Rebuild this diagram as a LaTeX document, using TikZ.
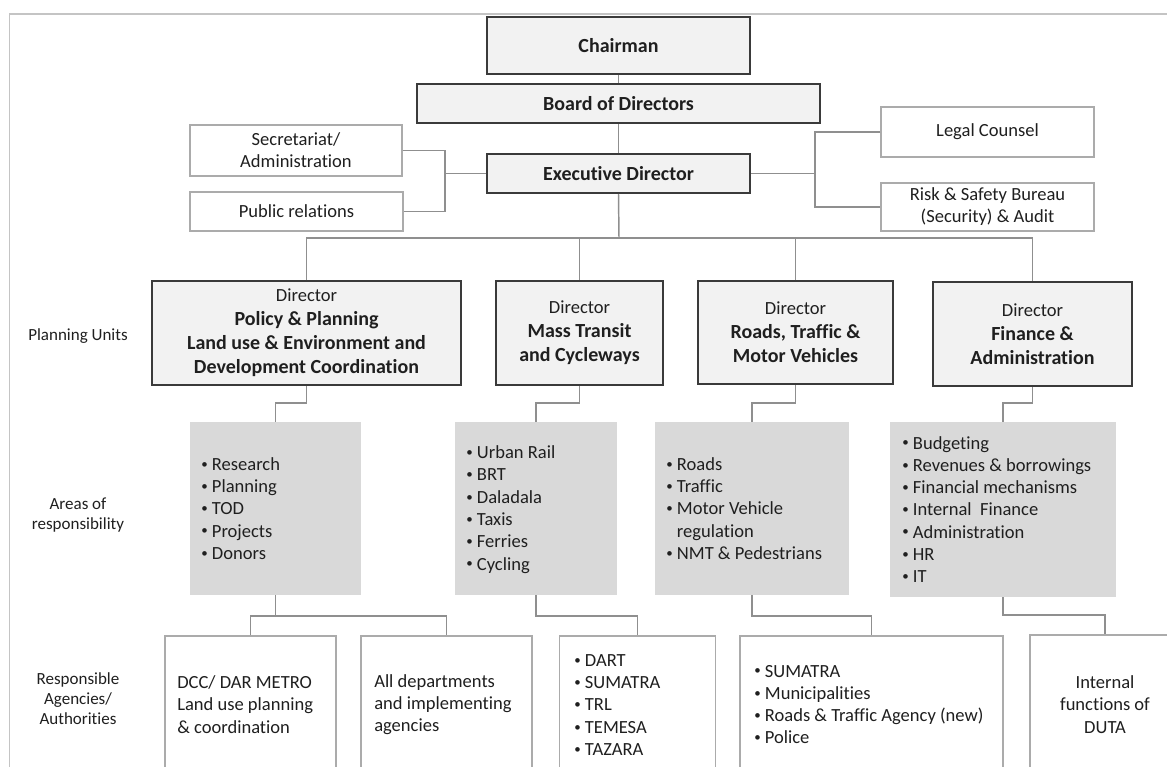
\documentclass[tikz,border=0pt]{standalone}
\usepackage{fontspec}
\setmainfont[Ligatures=NoCommon]{Carlito}
\usetikzlibrary{fit}

\definecolor{ink}{HTML}{1F1F1F}
\definecolor{boxline}{HTML}{3A3A3A}
\definecolor{boxfill}{HTML}{F2F2F2}
\definecolor{connc}{HTML}{8F8F8F}
\definecolor{thinline}{HTML}{ABABAB}
\definecolor{greyfill}{HTML}{D9D9D9}
\definecolor{framec}{HTML}{C4C4C4}

% small bullet with fixed hang, and the matching indent for wrapped lines
\newcommand\bl{\makebox[8pt][l]{\raisebox{0.25ex}{\scalebox{0.7}{\textbullet}}}}
\newcommand\bh{\hspace*{8pt}}
\newcommand\dirline{{\mdseries\fontsize{13.9}{18}\selectfont Director}}

\tikzset{
  size/.style 2 args={minimum width=#1*0.75pt, minimum height=#2*0.75pt},
  head/.style={draw=boxline, line width=1.5pt, fill=boxfill, inner sep=0pt,
    text=ink, align=center, font=\fontsize{15}{18}\selectfont\bfseries},
  plainbox/.style={draw=thinline, line width=1.1pt, fill=white, inner sep=0pt,
    text=ink, align=center, font=\fontsize{13.9}{16.5}\selectfont},
  greybox/.style={fill=greyfill, draw=none, inner sep=0pt},
  listtext/.style={anchor=west, align=left, inner sep=0pt, text=ink,
    font=\fontsize{13.9}{16.7}\selectfont},
  rowlabel/.style={align=center, inner sep=0pt, text=ink,
    font=\fontsize{12.75}{15}\selectfont},
  link/.style={draw=connc, line width=1.1pt},
}

\begin{document}
\begin{tikzpicture}[x=0.75pt, y=-0.75pt]
\useasboundingbox (0,0) rectangle (1167,767);
\clip (0,0) rectangle (1167,767);

% page frame
\draw[framec, line width=1.1pt] (9.6,790) -- (9.6,14) -- (1190,14);

% governing bodies
\node[head, size={263}{57}] (chair) at (618.5,45.5) {Chairman};
\node[head, size={403}{39}] (board) at (618.5,103.5) {Board of Directors};
\node[head, size={263}{39}] (exec) at (618.5,173.5) {Executive Director};

% staff offices
\node[plainbox, size={212}{51}] (sec) at (296,150.5) {Secretariat/\\Administration};
\node[plainbox, size={213}{39}] (pub) at (296.5,211.5) {Public relations};
\node[plainbox, size={213}{50}] (legal) at (987.5,132) {Legal Counsel};
\node[plainbox, size={213}{48}] (risk) at (987.5,207) {Risk \& Safety Bureau\\(Security) \& Audit};

% directorates
\node[head, size={309}{104}] (dpol) at (306.5,333) {\dirline\\Policy \& Planning\\Land use \& Environment and\\Development Coordination};
\node[head, size={167}{104}] (dmass) at (579.5,333) {\dirline\\Mass Transit\\and Cycleways};
\node[head, size={195}{103}] (droad) at (795.5,332.5) {\dirline\\Roads, Traffic \&\\Motor Vehicles};
\node[head, size={199}{104}] (dfin) at (1032.5,334) {\dirline\\Finance \&\\Administration};

% areas of responsibility
\node[greybox, fit={(190,422) (361,595)}] (gpol) {};
\node[greybox, fit={(455,422) (617,595)}] (gmass) {};
\node[greybox, fit={(655,422) (849,595)}] (groad) {};
\node[greybox, fit={(890,422) (1116,597)}] (gfin) {};

\node[listtext] (lpol) at (201,508.5) {\bl Research\\\bl Planning\\\bl TOD\\\bl Projects\\\bl Donors};
\node[listtext] (lmass) at (466,509.5) {\bl Urban Rail\\\bl BRT\\\bl Daladala\\\bl Taxis\\\bl Ferries\\\bl Cycling};
\node[listtext] (lroad) at (666,508.5) {\bl Roads\\\bl Traffic\\\bl Motor Vehicle\\\bh regulation\\\bl NMT \& Pedestrians};
\node[listtext] (lfin) at (902,509.5) {\bl Budgeting\\\bl Revenues \& borrowings\\\bl Financial mechanisms\\\bl Internal\ \ Finance\\\bl Administration\\\bl HR\\\bl IT};

% responsible agencies
\node[plainbox, fit={(165,636) (336,790)}] (bdcc) {};
\node[plainbox, fit={(361,636) (532,790)}] (ball) {};
\node[plainbox, fit={(559.5,636) (715.5,790)}] (bdart) {};
\node[plainbox, fit={(740,636) (1003,790)}] (broad) {};
\node[plainbox, fit={(1030,635) (1180,790)}] (bint) {};

\node[listtext] (tdcc) at (177,704.5) {DCC/ DAR METRO\\Land use planning\\\& coordination};
\node[listtext] (tall) at (374,704.5) {All departments\\and implementing\\agencies};
\node[listtext] (tdart) at (574,705) {\bl DART\\\bl SUMATRA\\\bl TRL\\\bl TEMESA\\\bl TAZARA};
\node[listtext] (troad) at (754,704.5) {\bl SUMATRA\\\bl Municipalities\\\bl Roads \& Traffic Agency (new)\\\bl Police};
\node[listtext, anchor=center, align=center] (tint) at (1105,704.5) {Internal\\functions of\\DUTA};

% row captions
\node[rowlabel] (rpu) at (78,336) {Planning Units};
\node[rowlabel] (rar) at (78,515) {Areas of\\responsibility};
\node[rowlabel] (rag) at (78,699) {Responsible\\Agencies/\\Authorities};

% reporting lines
\coordinate (bus) at (619,238);
\coordinate (lj) at (445,173.5);
\coordinate (rj) at (815,173.5);
\coordinate (y403) at (0,403);
\coordinate (y616) at (0,616);
\coordinate (y615) at (0,615);

\draw[link] (chair.south) -- (board.north);
\draw[link] (board.south) -- (exec.north);
\draw[link] (exec.south) -- (bus);
\draw[link] (dpol.north) |- (bus) -| (dfin.north);
\draw[link] (dmass.north) -- (dmass.north |- bus);
\draw[link] (droad.north) -- (droad.north |- bus);

\draw[link] (exec.west) -- (lj);
\draw[link] (sec.east) -| (lj) |- (pub.east);
\draw[link] (exec.east) -- (rj);
\draw[link] (legal.west) -| (rj) |- (risk.west);

\draw[link] (dpol.south) -- (dpol.south |- y403) -| (gpol.north);
\draw[link] (dmass.south) -- (dmass.south |- y403) -| (gmass.north);
\draw[link] (droad.south) -- (droad.south |- y403) -| (groad.north);
\draw[link] (dfin.south) -- (dfin.south |- y403) -| (gfin.north);

\draw[link] (gpol.south) -- (gpol.south |- y616);
\draw[link] (bdcc.north) |- (y616 -| ball.north) -- (ball.north);
\draw[link] (gmass.south) -- (gmass.south |- y616) -| (bdart.north);
\draw[link] (groad.south) -- (groad.south |- y616) -| (broad.north);
\draw[link] (gfin.south) -- (gfin.south |- y615) -| (bint.north);
\end{tikzpicture}
\end{document}
